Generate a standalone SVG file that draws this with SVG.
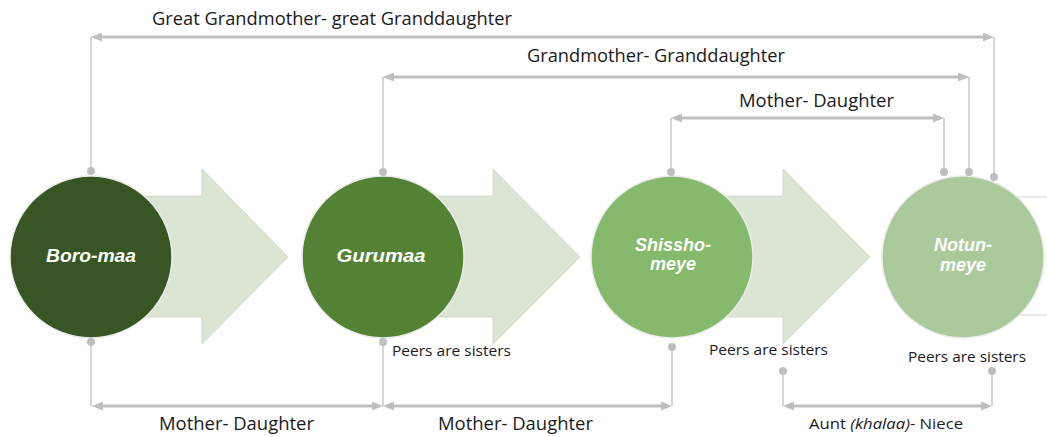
<svg xmlns="http://www.w3.org/2000/svg" width="1047" height="437" viewBox="0 0 1047 437">
<defs>
<marker id="ah" viewBox="0 0 11 9" refX="7" refY="4.5" markerWidth="11" markerHeight="9" markerUnits="userSpaceOnUse" orient="auto-start-reverse">
<path d="M0,0 L11,4.5 L0,9 Z" fill="#bfbfbf"/>
</marker>
</defs>
<style>
.arrow{fill:#dae5d4;stroke:#c8d2c4;stroke-width:0.75}
.node circle{stroke:#ececec;stroke-width:1.5}
.lbl{font-family:"Liberation Sans",Arial,sans-serif;font-weight:bold;font-style:italic;font-size:18px;fill:#ffffff;text-anchor:middle}
.t{font-family:"Open Sans","Noto Sans",sans-serif;fill:#1a1a1a}
.big{font-size:18.5px}
.small{font-size:15px}
.v{fill:none;stroke:#bfbfbf;stroke-width:1.3}
.h{stroke:#bfbfbf;stroke-width:3;marker-start:url(#ah);marker-end:url(#ah)}
.dot{fill:#bfbfbf}
</style>
<rect width="1047" height="437" fill="#ffffff"/>
<g id="arrows">
<path class="arrow" d="M91,196 L202,196 L202,169 L288,257 L202,344 L202,317 L91,317 Z"/>
<path class="arrow" d="M383,196 L493,196 L493,169 L580,257 L493,344 L493,317 L383,317 Z"/>
<path class="arrow" d="M672,196 L783,196 L783,169 L870,257 L783,344 L783,317 L672,317 Z"/>
<path d="M963,197 L1050,197 L1050,315 L963,315 Z" fill="#ffffff" stroke="#d9d9d9" stroke-width="1"/>
</g>
<g id="boro-maa" class="node">
<circle cx="91" cy="257" r="81" fill="#375623"/>
<text class="lbl" x="91" y="262" textLength="90" lengthAdjust="spacingAndGlyphs">Boro-maa</text>
</g>
<g id="gurumaa" class="node">
<circle cx="383" cy="257" r="81" fill="#548235"/>
<text class="lbl" x="381" y="262" textLength="89" lengthAdjust="spacingAndGlyphs">Gurumaa</text>
</g>
<g id="shissho-meye" class="node">
<circle cx="672" cy="257" r="81" fill="#85b96b"/>
<text class="lbl" x="673" y="251">Shissho-</text>
<text class="lbl" x="673" y="270">meye</text>
</g>
<g id="notun-meye" class="node">
<circle cx="963" cy="257" r="81" fill="#abca9c"/>
<text class="lbl" x="963" y="251">Notun-</text>
<text class="lbl" x="963" y="271">meye</text>
</g>
<g id="connectors">
<path class="v" d="M91,171 V37 M994,177 V37"/>
<line class="h" x1="95" y1="37" x2="990" y2="37"/>
<circle class="dot" cx="91" cy="171" r="4"/><circle class="dot" cx="994" cy="177" r="4"/>
<path class="v" d="M383,172 V77 M969,172 V77"/>
<line class="h" x1="387" y1="77" x2="965" y2="77"/>
<circle class="dot" cx="383" cy="172" r="4"/><circle class="dot" cx="969" cy="172" r="4"/>
<path class="v" d="M671,172 V118 M944,172 V118"/>
<line class="h" x1="675" y1="118" x2="940" y2="118"/>
<circle class="dot" cx="671" cy="172" r="4"/><circle class="dot" cx="944" cy="172" r="4"/>
<path class="v" d="M91,342 V406 M383,342 V406 M672,347 V406"/>
<line class="h" x1="96" y1="406" x2="379" y2="406"/>
<line class="h" x1="387" y1="406" x2="668" y2="406"/>
<circle class="dot" cx="91" cy="342" r="4"/><circle class="dot" cx="383" cy="342" r="4"/><circle class="dot" cx="672" cy="347" r="4"/>
<path class="v" d="M783,371 V406 M992,371 V406"/>
<line class="h" x1="787" y1="406" x2="988" y2="406"/>
<circle class="dot" cx="783" cy="371" r="4"/><circle class="dot" cx="992" cy="371" r="4"/>
</g>
<g id="labels">
<text class="t big" x="152" y="25" textLength="360" lengthAdjust="spacingAndGlyphs">Great Grandmother- great Granddaughter</text>
<text class="t big" x="527" y="62" textLength="258" lengthAdjust="spacingAndGlyphs">Grandmother- Granddaughter</text>
<text class="t big" x="739" y="107" textLength="155" lengthAdjust="spacingAndGlyphs">Mother- Daughter</text>
<text class="t big" x="159" y="430" textLength="155" lengthAdjust="spacingAndGlyphs">Mother- Daughter</text>
<text class="t big" x="438" y="430" textLength="155" lengthAdjust="spacingAndGlyphs">Mother- Daughter</text>
<text class="t small" x="392" y="356" textLength="119" lengthAdjust="spacingAndGlyphs">Peers are sisters</text>
<text class="t small" x="709" y="355" textLength="119" lengthAdjust="spacingAndGlyphs">Peers are sisters</text>
<text class="t small" x="908" y="362" textLength="118" lengthAdjust="spacingAndGlyphs">Peers are sisters</text>
<text class="t small" x="809" y="429" textLength="154" lengthAdjust="spacingAndGlyphs">Aunt <tspan font-style="italic">(khalaa)</tspan>- Niece</text>
</g>
</svg>
